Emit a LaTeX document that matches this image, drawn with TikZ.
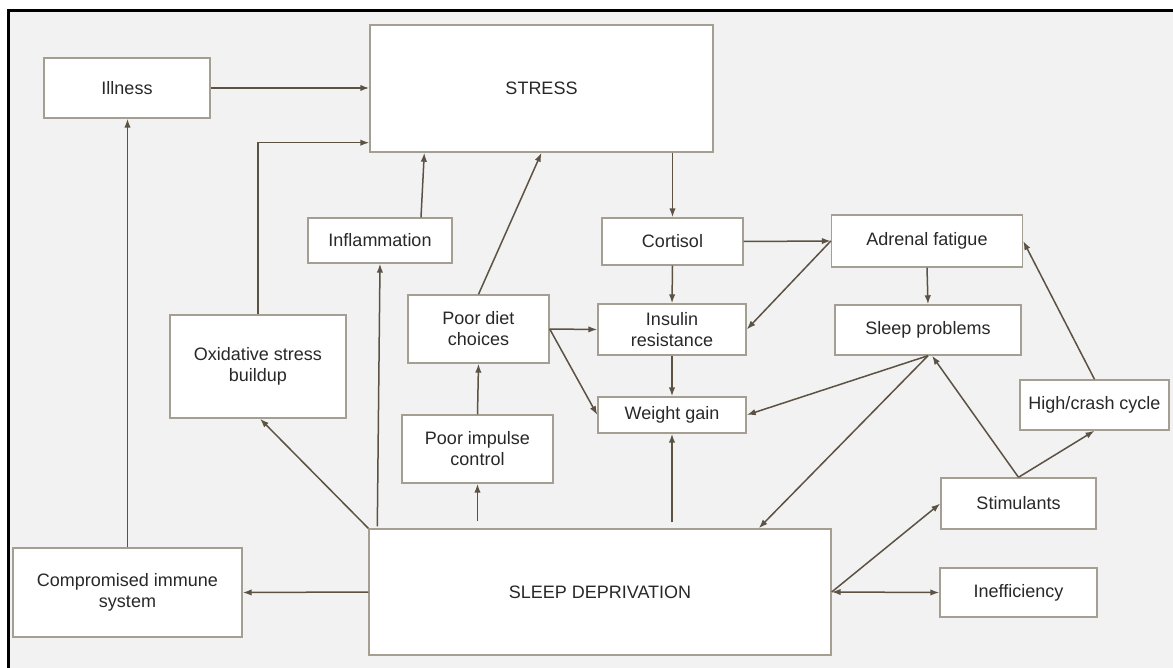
\documentclass[tikz,border=0pt]{standalone}
\usepackage{fontspec}
\setmainfont{Liberation Sans}
\usepackage{tikz}
\usetikzlibrary{arrows.meta, calc}
\definecolor{bgcol}{RGB}{242,242,242}
\definecolor{edgecol}{RGB}{165,158,146}
\definecolor{linkcol}{RGB}{92,82,68}
\definecolor{txtcol}{RGB}{40,40,40}

\begin{document}
\begin{tikzpicture}[x=0.5pt, y=-0.5pt,
        block/.style={draw=edgecol, fill=white, line width=0.7pt, align=center, inner sep=1pt, text=txtcol, font=\fontsize{9}{10.5}\selectfont},
        link/.style={draw=linkcol, line width=0.75pt, -{Latex[length=4.5pt, width=3.2pt]}}]

                \coordinate (A) at (0, 0);
                \useasboundingbox (A) rectangle (1173, 668);

                % frame
                \fill[white] (A) rectangle (1173, 668);
                \fill[bgcol] ($ (A) + (8.5, 10.5) $) rectangle (1173, 668);
                \draw[black, line width=1.6pt] ($ (A) + (8.5, 668) $) -- ($ (A) + (8.5, 10.5) $) -- ($ (A) + (1173, 10.5) $);

                % top row
                \node[block, minimum width=83pt, minimum height=30pt] (illness) at ($ (A) + (127, 88) $) {Illness};
                \node[block, minimum width=171.5pt, minimum height=63.5pt] (stress) at ($ (A) + (541.5, 88.5) $) {STRESS};

                % middle boxes
                \node[block, minimum width=72pt, minimum height=22.5pt] (inflam) at ($ (A) + (380, 240.5) $) {Inflammation};
                \node[block, minimum width=70.5pt, minimum height=23.5pt] (cortisol) at ($ (A) + (672.5, 241.5) $) {Cortisol};
                \node[block, minimum width=95.5pt, minimum height=26pt] (adrenal) at ($ (A) + (927, 241) $) {Adrenal fatigue};
                \node[block, minimum width=88pt, minimum height=51.5pt] (oxid) at ($ (A) + (258, 366.5) $) {Oxidative stress\\buildup};
                \node[block, minimum width=70.5pt, minimum height=34pt] (poordiet) at ($ (A) + (478.5, 329) $) {Poor diet\\choices};
                \node[block, minimum width=74pt, minimum height=25.5pt] (insulin) at ($ (A) + (672, 329.5) $) {Insulin\\resistance};
                \node[block, minimum width=93pt, minimum height=25pt] (sleepprob) at ($ (A) + (928, 330) $) {Sleep problems};
                \node[block, minimum width=74pt, minimum height=18pt] (weight) at ($ (A) + (672, 415) $) {Weight gain};
                \node[block, minimum width=74.5pt, minimum height=25pt] (highcrash) at ($ (A) + (1094.5, 405) $) {High/crash cycle};
                \node[block, minimum width=75.5pt, minimum height=34pt] (impulse) at ($ (A) + (477.5, 449) $) {Poor impulse\\control};
                \node[block, minimum width=77.5pt, minimum height=25.5pt] (stimul) at ($ (A) + (1018.5, 503.5) $) {Stimulants};
                \node[block, minimum width=78.5pt, minimum height=24.5pt] (ineff) at ($ (A) + (1018.5, 592.5) $) {Inefficiency};

                % bottom row
                \node[block, minimum width=114.5pt, minimum height=44.5pt] (immune) at ($ (A) + (127.5, 592.5) $) {Compromised immune\\system};
                \node[block, minimum width=231pt, minimum height=63pt] (sleepdep) at ($ (A) + (600, 592) $) {SLEEP DEPRIVATION};

                % into stress
                \draw[link] (illness.east) -- (stress.west |- illness.east);
                \draw[link] (oxid.north) |- ($ (stress.south west) + (0, -10) $);
                \draw[link] ($ (inflam.north) + (41, 0) $) -- ($ (stress.south west) + (55, 0) $);
                \draw[link] (poordiet.north) -- (stress.south);
                \draw[link] (immune.north) -- (immune.north |- illness.south);

                % out of sleep deprivation
                \draw[link] (sleepdep.west) -- (immune.east);
                \draw[link] (sleepdep.north west) -- ($ (oxid.south) + (2, 0) $);
                \draw[link] ($ (sleepdep.north west) + (9, -2) $) -- (inflam.south);
                \draw[link] ($ (impulse.south |- sleepdep.north) + (0, -7) $) -- (impulse.south);
                \draw[link] ($ (weight.south |- sleepdep.north) + (0, -6) $) -- (weight.south);
                \draw[link] (sleepdep.east) -- (stimul.west);
                \draw[link, {Latex[length=4.5pt, width=3.2pt]}-{Latex[length=4.5pt, width=3.2pt]}] (sleepdep.east) -- (ineff.west);

                % diet chain
                \draw[link] (impulse.north) -- (poordiet.south);
                \draw[link] (poordiet.east) -- (insulin.west);
                \draw[link] (poordiet.east) -- (weight.west);

                % cortisol chain
                \draw[link] (cortisol.north |- stress.south) -- (cortisol.north);
                \draw[link] (cortisol.south) -- (insulin.north);
                \draw[link] (insulin.south) -- (weight.north);
                \draw[link] (cortisol.east) -- (adrenal.west);
                \draw[link] (adrenal.west) -- (insulin.east);
                \draw[link] (adrenal.south) -- (sleepprob.north);

                % sleep problems
                \draw[link] (sleepprob.south) -- (weight.east);
                \draw[link] (sleepprob.south) -- ($ (sleepdep.north east) + (-73, 0) $);
                \draw[link] (stimul.north) -- ($ (sleepprob.south) + (4, 0) $);
                \draw[link] (stimul.north) -- (highcrash.south);
                \draw[link] (highcrash.north) -- (adrenal.east);

            \end{tikzpicture}
\end{document}
